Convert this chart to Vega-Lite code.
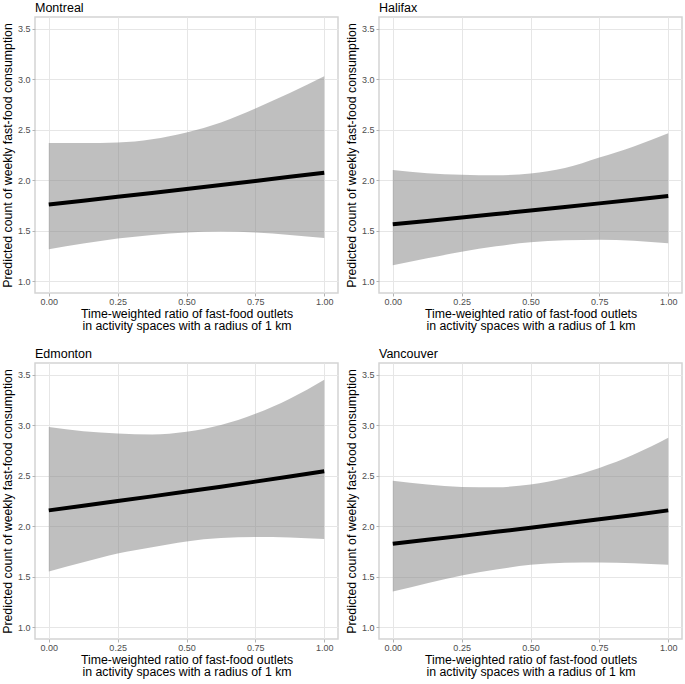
{
  "$schema": "https://vega.github.io/schema/vega-lite/v6.json",
  "padding": {"left": 0, "top": 0, "right": 2, "bottom": 0},
  "background": "white",
  "data": {"values": [
    {"city": "Montreal", "x": 0, "lo": 1.315, "hi": 2.368, "fit": 1.760},
    {"city": "Montreal", "x": 0.125, "lo": 1.371, "hi": 2.368, "fit": 1.797},
    {"city": "Montreal", "x": 0.25, "lo": 1.421, "hi": 2.374, "fit": 1.835},
    {"city": "Montreal", "x": 0.375, "lo": 1.457, "hi": 2.407, "fit": 1.874},
    {"city": "Montreal", "x": 0.5, "lo": 1.480, "hi": 2.474, "fit": 1.913},
    {"city": "Montreal", "x": 0.625, "lo": 1.490, "hi": 2.573, "fit": 1.953},
    {"city": "Montreal", "x": 0.75, "lo": 1.480, "hi": 2.712, "fit": 1.993},
    {"city": "Montreal", "x": 0.875, "lo": 1.457, "hi": 2.864, "fit": 2.034},
    {"city": "Montreal", "x": 1, "lo": 1.427, "hi": 3.030, "fit": 2.075},
    {"city": "Halifax", "x": 0, "lo": 1.156, "hi": 2.100, "fit": 1.563},
    {"city": "Halifax", "x": 0.125, "lo": 1.225, "hi": 2.070, "fit": 1.596},
    {"city": "Halifax", "x": 0.25, "lo": 1.290, "hi": 2.055, "fit": 1.630},
    {"city": "Halifax", "x": 0.375, "lo": 1.345, "hi": 2.050, "fit": 1.664},
    {"city": "Halifax", "x": 0.5, "lo": 1.385, "hi": 2.066, "fit": 1.699},
    {"city": "Halifax", "x": 0.625, "lo": 1.405, "hi": 2.120, "fit": 1.734},
    {"city": "Halifax", "x": 0.75, "lo": 1.410, "hi": 2.225, "fit": 1.770},
    {"city": "Halifax", "x": 0.875, "lo": 1.400, "hi": 2.335, "fit": 1.807},
    {"city": "Halifax", "x": 1, "lo": 1.374, "hi": 2.467, "fit": 1.844},
    {"city": "Edmonton", "x": 0, "lo": 1.550, "hi": 2.983, "fit": 2.157},
    {"city": "Edmonton", "x": 0.125, "lo": 1.643, "hi": 2.943, "fit": 2.203},
    {"city": "Edmonton", "x": 0.25, "lo": 1.729, "hi": 2.920, "fit": 2.249},
    {"city": "Edmonton", "x": 0.375, "lo": 1.792, "hi": 2.910, "fit": 2.296},
    {"city": "Edmonton", "x": 0.5, "lo": 1.849, "hi": 2.936, "fit": 2.344},
    {"city": "Edmonton", "x": 0.625, "lo": 1.882, "hi": 3.003, "fit": 2.392},
    {"city": "Edmonton", "x": 0.75, "lo": 1.892, "hi": 3.115, "fit": 2.442},
    {"city": "Edmonton", "x": 0.875, "lo": 1.889, "hi": 3.265, "fit": 2.493},
    {"city": "Edmonton", "x": 1, "lo": 1.872, "hi": 3.454, "fit": 2.545},
    {"city": "Vancouver", "x": 0, "lo": 1.351, "hi": 2.452, "fit": 1.826},
    {"city": "Vancouver", "x": 0.125, "lo": 1.434, "hi": 2.414, "fit": 1.865},
    {"city": "Vancouver", "x": 0.25, "lo": 1.511, "hi": 2.390, "fit": 1.904},
    {"city": "Vancouver", "x": 0.375, "lo": 1.570, "hi": 2.387, "fit": 1.944},
    {"city": "Vancouver", "x": 0.5, "lo": 1.617, "hi": 2.414, "fit": 1.985},
    {"city": "Vancouver", "x": 0.625, "lo": 1.637, "hi": 2.479, "fit": 2.026},
    {"city": "Vancouver", "x": 0.75, "lo": 1.640, "hi": 2.578, "fit": 2.069},
    {"city": "Vancouver", "x": 0.875, "lo": 1.633, "hi": 2.711, "fit": 2.112},
    {"city": "Vancouver", "x": 1, "lo": 1.617, "hi": 2.877, "fit": 2.157}
  ]},
  "facet": {
    "field": "city", "type": "nominal",
    "sort": ["Montreal", "Halifax", "Edmonton", "Vancouver"],
    "header": {"title": null, "labelAnchor": "start", "labelAlign": "left", "labelFontSize": 12.5, "labelFont": "Liberation Sans", "labelColor": "black", "labelPadding": 3}
  },
  "columns": 2,
  "spacing": {"row": 13, "column": 5},
  "spec": {
    "width": 303,
    "height": 276,
    "layer": [
      {
        "mark": {"type": "area", "color": "#808080", "opacity": 0.5, "interpolate": "monotone"},
        "encoding": {
          "x": {"field": "x", "type": "quantitative",
            "scale": {"domain": [-0.05, 1.05], "nice": false, "zero": false},
            "axis": {
              "values": [0, 0.125, 0.25, 0.375, 0.5, 0.625, 0.75, 0.875, 1],
              "labelExpr": "(datum.value*8) % 2 == 1 ? '' : format(datum.value, '.2f')",
              "gridColor": {"condition": {"test": "(datum.value*8) % 2 == 1", "value": "#F4F4F4"}, "value": "#E6E6E6"},
              "tickOpacity": {"condition": {"test": "(datum.value*8) % 2 == 1", "value": 0}, "value": 1},
              "title": ["Time-weighted ratio of fast-food outlets", " in activity spaces with a radius of 1 km"]
            }
          },
          "y": {"field": "lo", "type": "quantitative",
            "scale": {"domain": [0.881, 3.619], "nice": false, "zero": false},
            "axis": {
              "values": [1, 1.25, 1.5, 1.75, 2, 2.25, 2.5, 2.75, 3, 3.25, 3.5],
              "labelExpr": "(datum.value*4) % 2 == 1 ? '' : format(datum.value, '.1f')",
              "gridColor": {"condition": {"test": "(datum.value*4) % 2 == 1", "value": "#F4F4F4"}, "value": "#E6E6E6"},
              "tickOpacity": {"condition": {"test": "(datum.value*4) % 2 == 1", "value": 0}, "value": 1},
              "title": "Predicted count of weekly fast-food consumption"
            }
          },
          "y2": {"field": "hi"}
        }
      },
      {
        "mark": {"type": "line", "color": "black", "strokeWidth": 4},
        "encoding": {
          "x": {"field": "x", "type": "quantitative"},
          "y": {"field": "fit", "type": "quantitative"}
        }
      }
    ]
  },
  "resolve": {"axis": {"x": "independent", "y": "independent"}},
  "config": {
    "font": "Liberation Sans",
    "view": {"stroke": "#D4D4D4", "strokeWidth": 1.5},
    "axis": {
      "domain": false,
      "tickColor": "#B3B3B3",
      "tickSize": 3,
      "labelFontSize": 9,
      "labelColor": "#4D4D4D",
      "labelPadding": 2,
      "labelOverlap": false,
      "labelFlush": false,
      "titleFontSize": 12.3,
      "titleFontWeight": "normal",
      "titleColor": "black",
      "gridWidth": 1
    },
    "axisX": {"titlePadding": 1, "titleLineHeight": 12.5, "labelPadding": 1},
    "axisY": {"titlePadding": 3}
  }
}
